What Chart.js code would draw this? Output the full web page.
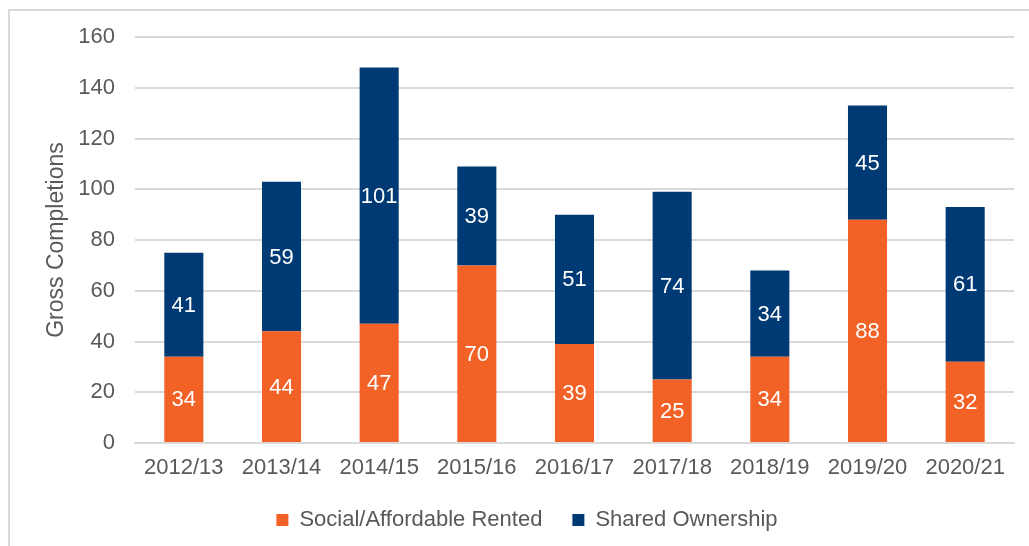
<!DOCTYPE html>
<html>
<head>
<meta charset="utf-8">
<script src="https://cdn.jsdelivr.net/npm/chart.js@4.4.1/dist/chart.umd.min.js"></script>
<style>
  html, body { margin: 0; padding: 0; background: #fff; }
  #wrap { position: relative; width: 1029px; height: 546px; overflow: hidden; }
  #frame { position: absolute; left: 8px; top: 9px; right: -4px; bottom: -4px;
           border-left: 2px solid #d9d9d9; border-top: 2px solid #d9d9d9; }
  canvas { position: absolute; left: 0; top: 0; }
</style>
</head>
<body>
<div id="wrap">
  <div id="frame"></div>
  <canvas id="chart" width="1029" height="546"></canvas>
</div>
<script>
// ============ 数据 ============
const YEARS = ["2012/13", "2013/14", "2014/15", "2015/16", "2016/17", "2017/18", "2018/19", "2019/20", "2020/21"];
const SOCIAL_RENTED = [34, 44, 47, 70, 39, 25, 34, 88, 32];
const SHARED_OWNERSHIP = [41, 59, 101, 39, 51, 74, 34, 45, 61];
const Y_TICKS = [0, 20, 40, 60, 80, 100, 120, 140, 160];

const GREY = "#595959";
const FONT = "'Liberation Sans', Arial, sans-serif";

// 柱内数字标签
const barLabels = {
  id: "barLabels",
  afterDatasetsDraw(chart) {
    const ctx = chart.ctx;
    ctx.save();
    ctx.fillStyle = "#fff";
    ctx.font = "22px " + FONT;
    ctx.textAlign = "center";
    ctx.textBaseline = "middle";
    chart.data.datasets.forEach((ds, di) => {
      chart.getDatasetMeta(di).data.forEach((bar, i) => {
        const y = (bar.y + bar.base) / 2;
        ctx.fillText(String(ds.data[i]), bar.x, y + 1);
      });
    });
    ctx.restore();
  }
};

new Chart(document.getElementById("chart"), {
  type: "bar",
  data: {
    labels: YEARS,
    datasets: [
      { label: "Social/Affordable Rented", data: SOCIAL_RENTED, backgroundColor: "#f26125" },
      { label: "Shared Ownership", data: SHARED_OWNERSHIP, backgroundColor: "#003a75" }
    ]
  },
  options: {
    responsive: false,
    animation: false,
    devicePixelRatio: 1,
    layout: { padding: { left: 40, right: 15, top: 37, bottom: 5 } },
    datasets: { bar: { barPercentage: 0.4, categoryPercentage: 1 } },
    scales: {
      x: {
        stacked: true,
        grid: { display: false },
        border: { display: true, color: "#d9d9d9", width: 2 },
        ticks: { color: GREY, font: { family: FONT, size: 22 }, padding: 4, maxRotation: 0 },
        afterFit(s) { s.height = 36; }
      },
      y: {
        stacked: true,
        min: 0,
        max: 160,
        afterBuildTicks(s) { s.ticks = Y_TICKS.map(v => ({ value: v })); },
        grid: { color: "#d9d9d9", lineWidth: 2, drawTicks: false },
        border: { display: false },
        ticks: { color: GREY, font: { family: FONT, size: 22 }, padding: 20 },
        title: {
          display: true,
          text: "Gross Completions",
          color: GREY,
          font: { family: FONT, size: 23 },
          padding: { top: 3, bottom: 0 }
        },
        afterFit(s) { s.width = 95; }
      }
    },
    plugins: {
      legend: {
        position: "bottom",
        labels: {
          color: GREY,
          font: { family: FONT, size: 22 },
          boxWidth: 12,
          boxHeight: 12,
          padding: 30
        }
      },
      tooltip: { enabled: false }
    }
  },
  plugins: [barLabels]
});
</script>
</body>
</html>
